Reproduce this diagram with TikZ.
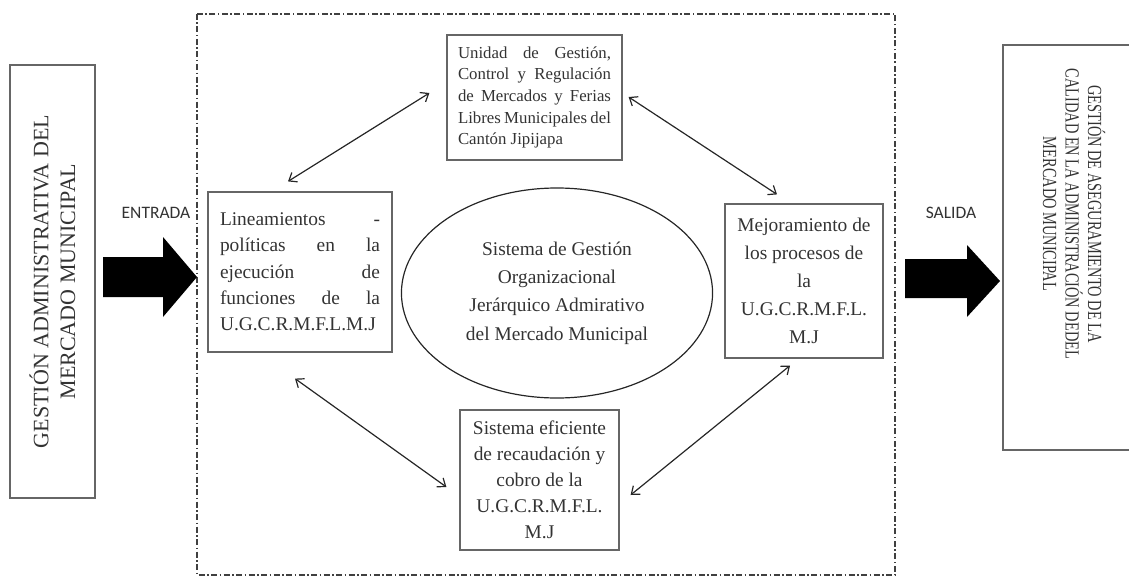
\documentclass[tikz,border=0pt]{standalone}
\usepackage{fontspec}
\setmainfont{Liberation Serif}
\newfontfamily\calibri{Carlito}
\usepackage{graphicx}
\usepackage{tikz}
\usetikzlibrary{positioning}
\usetikzlibrary{shapes.geometric}
\usetikzlibrary{arrows.meta}
\usepackage{xcolor}

\tikzset{
  caja/.style={draw=black!60, line width=1.2pt, text=black!80, inner sep=0pt},
  flecha/.style={<->, >={Straight Barb[length=7pt,width=11pt]}, line width=1.2pt, black!85},
  bloque/.style={fill=black},
  etiqueta/.style={text=black!80, font=\calibri\fontsize{17.5}{20}\selectfont},
}

\begin{document}
\begin{tikzpicture}[x=1pt, y=-1pt]
    \useasboundingbox (0,0) rectangle (1129,586);
    \clip (0,0) rectangle (1129,586);

    % marco del sistema
    \draw[black!75, line width=1.2pt, dash pattern=on 6pt off 2.5pt on 1.5pt off 2.5pt] (197,14) rectangle (895,575);

    \node[caja, rotate=90, minimum width=433, minimum height=85] (gestion) at (52.5,281.5)
          {\parbox{400pt}{\centering\fontsize{22}{26.7}\selectfont
           GESTIÓN ADMINISTRATIVA DEL\\MERCADO MUNICIPAL}};

    \node[caja, minimum width=175, minimum height=125] (unidad) at (534.5,97.5)
          {\parbox{153pt}{\fontsize{16.8}{21.7}\selectfont
           \makebox[153pt][s]{Unidad \hfill de \hfill Gestión,}\\
           \makebox[153pt][s]{Control \hfill y \hfill Regulación}\\
           \makebox[153pt][s]{de \hfill Mercados \hfill y \hfill Ferias}\\
           \makebox[153pt][s]{Libres Municipales del}\\
           Cantón Jipijapa}};

    \node[caja, minimum width=184, minimum height=160] (lineam) at (300,272)
          {\parbox{160pt}{\fontsize{19.4}{26.3}\selectfont
           \makebox[160pt][s]{Lineamientos \hfill -}\\
           \makebox[160pt][s]{políticas \hfill en \hfill la}\\
           \makebox[160pt][s]{ejecución \hfill de}\\
           \makebox[160pt][s]{funciones \hfill de \hfill la}\\
           U.G.C.R.M.F.L.M.J}};

    \node[ellipse, draw=black!85, line width=1.2pt, text=black!80, inner sep=0pt,
          minimum width=304, minimum height=210] (sistema) at (557,293)
          {\parbox{220pt}{\centering\fontsize{19.4}{28.3}\selectfont
           Sistema de Gestión\\Organizacional\\Jerárquico Admirativo\\del Mercado Municipal}};

    \node[caja, minimum width=158, minimum height=154] (mejora) at (804,281)
          {\parbox{150pt}{\centering\fontsize{19.4}{28}\selectfont
           Mejoramiento de\\los procesos de\\la\\U.G.C.R.M.F.L.\\M.J}};

    \node[caja, minimum width=159, minimum height=140] (eficiente) at (539.5,480)
          {\parbox{150pt}{\centering\fontsize{19.4}{26}\selectfont
           Sistema eficiente\\de recaudación y\\cobro de la\\U.G.C.R.M.F.L.\\M.J}};

    \node[caja, rotate=-90, minimum width=405, minimum height=147] (asegura) at (1076.5,247.5) {};
    \node[text=black!80, rotate=-90, inner sep=0pt] (asegura-txt) at (1074,214)
          {\scalebox{0.72}[1]{\parbox{420pt}{\centering\fontsize{20}{22.5}\selectfont
           GESTIÓN DE ASEGURAMIENTO DE LA\\CALIDAD EN LA ADMINISTRACIÓN DEDEL\\MERCADO MUNICIPAL}}};

    \node[etiqueta] (entrada) at (156,213) {ENTRADA};
    \node[etiqueta] (salida) at (951,213) {SALIDA};

    % flechas de bloque
    \fill[bloque] (103,257) -- (163,257) -- (163,237) -- (197,277) -- (163,317) -- (163,297) -- (103,297) -- cycle;
    \fill[bloque] (905,259) -- (967,259) -- (967,245) -- (1000,281) -- (967,317) -- (967,298) -- (905,298) -- cycle;

    \draw[flecha] ([xshift=-12pt,yshift=10pt]lineam.north) -- ([xshift=-17pt,yshift=4.5pt]unidad.west);
    \draw[flecha] ([xshift=6pt,yshift=0.5pt]unidad.east) -- ([xshift=-27pt,yshift=9pt]mejora.north);
    \draw[flecha] ([xshift=-5pt,yshift=-26pt]lineam.south) -- ([xshift=-13pt,yshift=-7pt]eficiente.west);
    \draw[flecha] ([xshift=-14pt,yshift=-7pt]mejora.south) -- ([xshift=11pt,yshift=-15pt]eficiente.east);

\end{tikzpicture}
\end{document}
